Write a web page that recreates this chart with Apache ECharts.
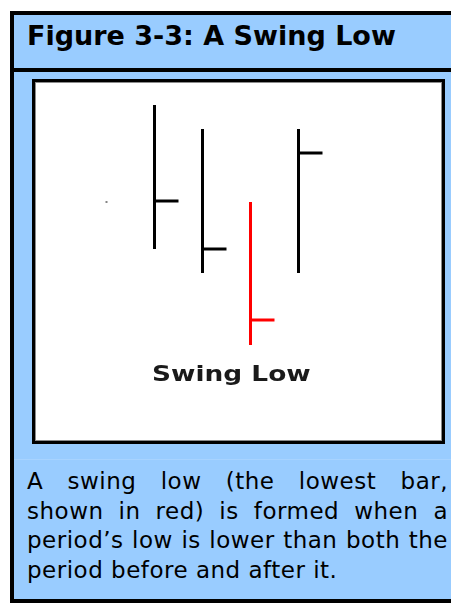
<!DOCTYPE html>
<html>
<head>
<meta charset="utf-8">
<script src="https://cdn.jsdelivr.net/npm/echarts@6/dist/echarts.min.js"></script>
<style>
  html, body { margin: 0; padding: 0; width: 451px; height: 603px; overflow: hidden; background: #fff; }
  #frame { position: absolute; left: 10px; top: 11px; width: 460px; height: 584px; background: #99ccff; border: 4px solid #000; }
  #title { position: absolute; left: 13px; top: 5.6px; font: bold 27px "DejaVu Sans", Verdana, sans-serif; line-height: 30px; color: #000; white-space: nowrap; }
  #rule { position: absolute; left: 0; top: 53px; width: 100%; height: 4px; background: #000; }
  #box { position: absolute; left: 18px; top: 64px; width: 407px; height: 359px; border: 3px solid #000; }
  #inset { width: 405px; height: 357px; border: 1px solid #8c8c8c; background: #fff; }
  #main { width: 405px; height: 357px; }
  #thin { position: absolute; left: 0; top: 444px; width: 100%; height: 1px; background: #a8d3ff; }
  #caption { position: absolute; left: 13px; top: 452.3px; width: 421px; font: 23px "DejaVu Sans", Verdana, sans-serif; letter-spacing: 0.5px; line-height: 29.5px; color: #000; text-align: justify; }
</style>
</head>
<body>
<div id="frame">
  <div id="title">Figure 3-3: A Swing Low</div>
  <div id="rule"></div>
  <div id="box"><div id="inset"><div id="main"></div></div></div>
  <div id="thin"></div>
  <div id="caption">A swing low (the lowest bar, shown in red) is formed when a period’s low is lower than both the period before and after it.</div>
</div>
<script>
// periods on the x axis, first one only shows a leftover dot
var periods = ['P0', 'P1', 'P2', 'P3', 'P4'];
var highs = [null, 333, 309, 236, 309];
var lows = [null, 189, 165, 93, 165];
var closes = [null, 237, 189, 118, 285];
var barColors = ['#000', '#000', '#000', '#ff0000', '#000'];
var dotValue = 236;
var swingLabel = 'Swing Low';

function renderBar(params, api) {
  var x = api.value(0);
  var hi = api.coord([x, api.value(1)]);
  var lo = api.coord([x, api.value(2)]);
  var cl = api.coord([x, api.value(3)]);
  var half = api.size([1, 0])[0] / 2;
  var style = { stroke: api.visual('color'), lineWidth: 3 };
  return {
    type: 'group',
    children: [
      { type: 'line', shape: { x1: hi[0], y1: hi[1], x2: lo[0], y2: lo[1] }, style: style },
      { type: 'line', shape: { x1: cl[0], y1: cl[1], x2: cl[0] + half, y2: cl[1] }, style: style }
    ]
  };
}

var barData = [];
for (var i = 0; i < periods.length; i++) {
  if (highs[i] == null) continue;
  barData.push({ value: [i, highs[i], lows[i], closes[i]], itemStyle: { color: barColors[i] } });
}

var myChart = echarts.init(document.getElementById('main'));
myChart.setOption({
  animation: false,
  grid: { left: 46.5, width: 240, top: 0, height: 355 },
  xAxis: { type: 'category', data: periods, show: false },
  yAxis: { type: 'value', min: 0, max: 355, show: false },
  series: [
    {
      type: 'custom',
      renderItem: renderBar,
      encode: { x: 0, y: [1, 2, 3] },
      data: barData
    },
    {
      type: 'scatter',
      symbol: 'rect',
      symbolSize: 2,
      itemStyle: { color: '#666' },
      data: [[0, dotValue]]
    }
  ],
  graphic: [
    {
      type: 'text',
      left: 116,
      top: 281,
      scaleX: 1.2,
      style: { text: swingLabel, font: 'bold 22px "DejaVu Sans"', fill: '#1a1a1a' }
    }
  ]
});
</script>
</body>
</html>
